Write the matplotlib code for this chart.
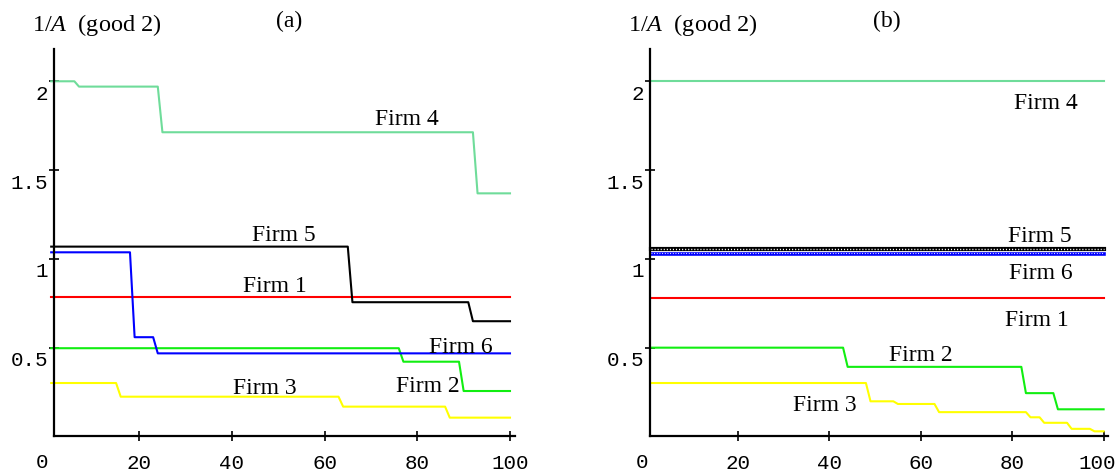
import matplotlib
matplotlib.use("Agg")
import matplotlib.pyplot as plt
import matplotlib.transforms as mtransforms

plt.rcParams['font.family'] = ['Liberation Serif', 'DejaVu Serif']
plt.rcParams['mathtext.fontset'] = 'custom'
plt.rcParams['mathtext.rm'] = 'Liberation Serif'
plt.rcParams['mathtext.it'] = 'Liberation Serif:italic'

T_END = 100

# panel (a): period where each new level is reached, and the level
a_firm1_t = [1]
a_firm1_v = [0.784]
a_firm2_t = [1, 77, 90]
a_firm2_v = [0.497, 0.421, 0.256]
a_firm3_t = [1, 16, 64, 87]
a_firm3_v = [0.301, 0.224, 0.168, 0.106]
a_firm4_t = [1, 7, 25, 93]
a_firm4_v = [2.0, 1.97, 1.713, 1.369]
a_firm5_t = [1, 66, 92]
a_firm5_v = [1.069, 0.756, 0.649]
a_firm6_t = [1, 19, 24]
a_firm6_v = [1.037, 0.559, 0.468]

# panel (b)
b_firm1_t = [1]
b_firm1_v = [0.781]
b_firm2_t = [1, 44, 83, 90]
b_firm2_v = [0.5, 0.392, 0.244, 0.153]
b_firm3_t = [1, 49, 55, 64, 84, 87, 93, 98]
b_firm3_v = [0.301, 0.198, 0.183, 0.137, 0.108, 0.077, 0.043, 0.029]
b_firm4_t = [1]
b_firm4_v = [2.0]
b_firm5_t = [1]
b_firm5_v = [1.058]
b_firm6_t = [1]
b_firm6_v = [1.03]

x_ticks = [20, 40, 60, 80, 100]
y_ticks = [0.5, 1, 1.5, 2]
y_ticklabels = ['0.5', '1', '1.5', '2']

# label name, t, value
a_labels = [('Firm 4', 77.7, 1.79), ('Firm 5', 51.2, 1.135), ('Firm 1', 49.3, 0.849),
            ('Firm 6', 89.3, 0.508), ('Firm 2', 82.3, 0.286), ('Firm 3', 47.2, 0.273)]
b_labels = [('Firm 4', 87.3, 1.88), ('Firm 5', 86.1, 1.13), ('Firm 6', 86.2, 0.924),
            ('Firm 1', 85.4, 0.657), ('Firm 2', 59.9, 0.46), ('Firm 3', 38.9, 0.178)]

C4 = '#6fdc9a'
C2 = '#11ee11'
C3 = '#ffff00'
C1 = '#ff0000'
C6 = '#0000ff'
C5 = '#000000'


def step_path(starts, levels, end=T_END):
    # each level holds until one period before the next level starts
    xs, ys = [], []
    for i in range(len(starts)):
        stop = starts[i + 1] - 1 if i + 1 < len(starts) else end
        xs += [starts[i], stop]
        ys += [levels[i], levels[i]]
    return xs, ys


def setup_axes(ax, origin_x):
    ax.set_xlim(-2, 104)
    ax.set_ylim(-0.2, 2.3)
    for s in ['top', 'right']:
        ax.spines[s].set_visible(False)
    ax.spines['left'].set_position(('data', origin_x))
    ax.spines['bottom'].set_position(('data', 0))
    ax.spines['left'].set_bounds(0, 2.18)
    ax.spines['bottom'].set_bounds(origin_x, 101)
    ax.spines['left'].set_linewidth(1.6)
    ax.spines['bottom'].set_linewidth(1.6)
    ax.set_xticks(x_ticks)
    ax.set_xticklabels([str(t) for t in x_ticks])
    ax.set_yticks(y_ticks)
    ax.set_yticklabels(y_ticklabels)
    ax.tick_params(direction='inout', length=6.5, width=1.2)
    ax.tick_params(axis='x', pad=9)
    ax.tick_params(axis='y', pad=1)
    for lab in ax.get_xticklabels() + ax.get_yticklabels():
        lab.set_fontfamily('Liberation Mono')
        lab.set_fontsize(15)
    off = mtransforms.ScaledTranslation(0, -0.10, ax.figure.dpi_scale_trans)
    for lab in ax.get_yticklabels():
        lab.set_transform(lab.get_transform() + off)
    ax.text(-0.9, -0.14, '0', ha='center', va='center',
            fontfamily='Liberation Mono', fontsize=15)
    ax.patch.set_alpha(0)


fig = plt.figure(figsize=(11.2, 4.77), dpi=100)
ax_a = fig.add_axes([0.0333, 0.0084, 0.4386, 0.9308])
ax_b = fig.add_axes([0.5691, 0.0084, 0.4326, 0.9308])

# (a)
for t, v, c in [(a_firm4_t, a_firm4_v, C4), (a_firm1_t, a_firm1_v, C1),
                (a_firm2_t, a_firm2_v, C2), (a_firm3_t, a_firm3_v, C3),
                (a_firm5_t, a_firm5_v, C5), (a_firm6_t, a_firm6_v, C6)]:
    xs, ys = step_path(t, v)
    ax_a.plot(xs, ys, color=c, lw=1.5)
setup_axes(ax_a, 1.6)
for name, x, y in a_labels:
    ax_a.text(x, y, name, ha='center', va='center', fontsize=17)

# (b)
for t, v, c in [(b_firm4_t, b_firm4_v, C4), (b_firm1_t, b_firm1_v, C1),
                (b_firm2_t, b_firm2_v, C2), (b_firm3_t, b_firm3_v, C3)]:
    xs, ys = step_path(t, v)
    ax_b.plot(xs, ys, color=c, lw=1.5)
# firms 5 and 6 jitter around their level every period: drawn as a chain
xs, ys = step_path(b_firm6_t, b_firm6_v)
ax_b.plot(xs, ys, color=C6, lw=2.6)
ax_b.plot(xs, [y + 0.005 for y in ys], color='white', lw=0.8, dashes=(0.8, 1.6))
xs, ys = step_path(b_firm5_t, b_firm5_v)
ax_b.plot(xs, ys, color=C5, lw=3.0)
ax_b.plot(xs, ys, color='white', lw=1.0, dashes=(0.8, 1.4))
setup_axes(ax_b, 0.77)
# the "100" sits at the right edge of the picture: pull it in a little
last = ax_b.get_xticklabels()[-1]
last.set_transform(last.get_transform()
                   + mtransforms.ScaledTranslation(-0.06, 0, fig.dpi_scale_trans))
for name, x, y in b_labels:
    ax_b.text(x, y, name, ha='center', va='center', fontsize=17)

fig.text(289 / 1120, 1 - 21.7 / 477, '(a)', ha='center', va='center', fontsize=17)
fig.text(97 / 1120, 1 - 25 / 477, '1/$A$  (good 2)', ha='center', va='center', fontsize=17.5)
fig.text(886.8 / 1120, 1 - 21.7 / 477, '(b)', ha='center', va='center', fontsize=17)
fig.text(693 / 1120, 1 - 25 / 477, '1/$A$  (good 2)', ha='center', va='center', fontsize=17.5)

fig.savefig('out.png', dpi=100)
plt.close(fig)
